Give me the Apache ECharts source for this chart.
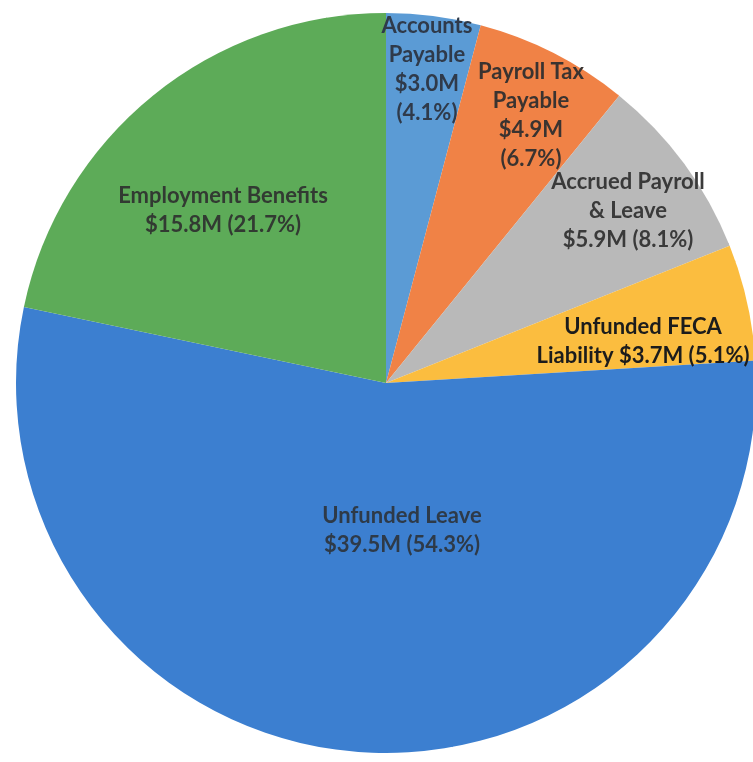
<!DOCTYPE html>
<html>
<head>
<meta charset="utf-8">
<script src="https://cdn.jsdelivr.net/npm/echarts@6/dist/echarts.min.js"></script>
<style>
  html, body { margin: 0; padding: 0; background: #ffffff; }
  #chart { width: 753px; height: 762px; }
</style>
</head>
<body>
<div id="chart"></div>
<script>
// Liability categories, in clockwise order from 12 o'clock
const categories = [
  'Accounts\nPayable',
  'Payroll Tax\nPayable',
  'Accrued Payroll\n& Leave',
  'Unfunded FECA\nLiability',
  'Unfunded Leave',
  'Employment Benefits'
];
// Amounts in millions of dollars
const amounts = [3.0, 4.9, 5.9, 3.7, 39.5, 15.8];

// How each label joins name, amount and percent
const nameAmountJoin = ['\n', '\n', '\n', ' ', '\n', '\n'];
const amountPctJoin = ['\n', '\n', ' ', ' ', ' ', ' '];

const sliceColors = ['#5b9bd5', '#f08246', '#b9b9b9', '#fbbd3f', '#3c7fd0', '#5dab58'];
const labelColors = ['#2f3a4a', '#3a3330', '#3a3a3a', '#1c1c1c', '#2e3a48', '#323a32'];

// Label block centres (px)
const labelAnchors = [
  [427, 69], [531, 115], [628, 211], [643, 341], [402, 530], [223, 210]
];

const chart = echarts.init(document.getElementById('chart'), null, { renderer: 'canvas' });

chart.setOption({
  animation: false,
  backgroundColor: '#ffffff',
  series: [{
    type: 'pie',
    center: [386, 383],
    radius: 370,
    startAngle: 90,
    clockwise: true,
    percentPrecision: 1,
    avoidLabelOverlap: false,
    itemStyle: { borderWidth: 0 },
    emphasis: { disabled: true },
    label: {
      show: true,
      position: 'inside',
      fontFamily: 'Lato',
      fontWeight: 'bold',
      fontSize: 22,
      lineHeight: 29,
      align: 'center',
      formatter: function (p) {
        const i = p.dataIndex;
        return p.name + nameAmountJoin[i] + '$' + p.value.toFixed(1) + 'M' +
          amountPctJoin[i] + '(' + p.percent.toFixed(1) + '%)';
      }
    },
    labelLayout: function (p) {
      const a = labelAnchors[p.dataIndex];
      return { x: a[0], y: a[1], align: 'center', verticalAlign: 'middle' };
    },
    data: categories.map(function (name, i) {
      return {
        name: name,
        value: amounts[i],
        itemStyle: { color: sliceColors[i] },
        label: { color: labelColors[i] }
      };
    })
  }]
});
</script>
</body>
</html>
